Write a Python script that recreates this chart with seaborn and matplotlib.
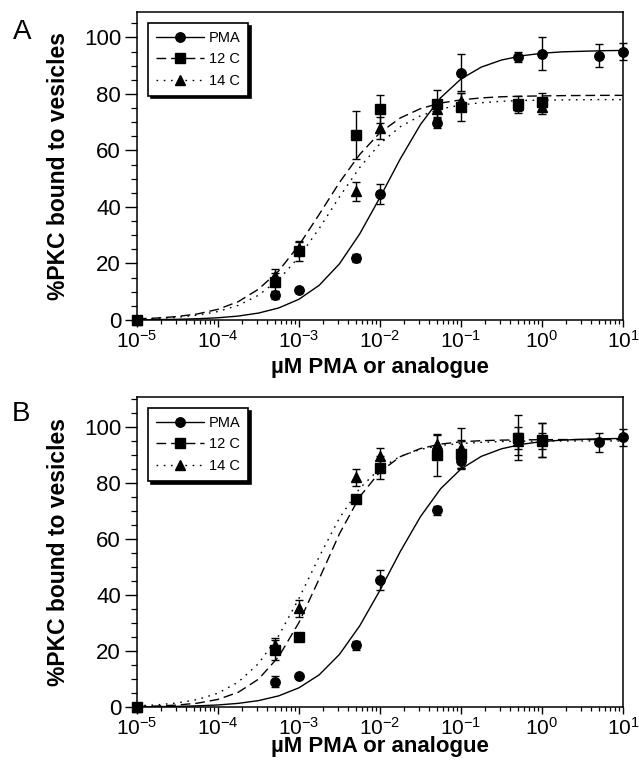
import numpy as np
import matplotlib
matplotlib.use('Agg')
import matplotlib.pyplot as plt
from matplotlib.lines import Line2D
from matplotlib.ticker import LogLocator, MultipleLocator, NullFormatter
import seaborn as sns

# Measured points (concentration in uM, % bound, error)
pma_x = [1e-5, 5e-4, 1e-3, 5e-3, 1e-2, 5e-2, 1e-1, 5e-1, 1, 5, 10]
ana_x = [1e-5, 5e-4, 1e-3, 5e-3, 1e-2, 5e-2, 1e-1, 5e-1, 1]

pma_a = [0, 8.8, 10.6, 22, 44.6, 69.6, 87.5, 93.2, 94.3, 93.5, 95.0]
pma_a_err = [0, 1.5, 0.8, 1.5, 3.5, 1.5, 6.5, 1.8, 5.8, 4.0, 3.0]
c12_a = [0, 13.6, 24.5, 65.5, 74.8, 76.5, 75.5, 76.3, 77.3]
c12_a_err = [0, 3.2, 3.5, 8.5, 5.0, 4.8, 5.0, 3.0, 3.0]
c14_a = [0, 15.5, 25.5, 45.5, 68, 74.5, 77.5, 76, 75.5]
c14_a_err = [0, 2.5, 2.0, 3.5, 4.0, 3.0, 3.0, 2.0, 2.5]

pma_b = [0, 9, 11, 22, 45.4, 70.2, 88, 95, 95.4, 94.5, 96.3]
pma_b_err = [0, 2.0, 0.8, 1.5, 3.5, 1.5, 3.0, 5.0, 6.0, 3.5, 3.0]
c12_b = [0, 20.4, 25, 74.3, 85.5, 90, 90.3, 96.2, 95.4]
c12_b_err = [0, 3.5, 1.5, 1.5, 4.0, 7.5, 5.0, 8.0, 6.0]
c14_b = [0, 22, 35.2, 82, 89.5, 94, 92.5, 95, 95]
c14_b_err = [0, 2.5, 3.0, 3.0, 3.0, 3.0, 7.0, 3.0, 3.0]

# Fitted curves, read at quarter-decade steps (log10 of uM)
curve_logx = [-5, -4.75, -4.5, -4.25, -4, -3.75, -3.5, -3.25, -3, -2.75, -2.5,
              -2.25, -2, -1.75, -1.5, -1.25, -1, -0.75, -0.5, -0.25, 0,
              0.25, 0.5, 0.75, 1]
fit_pma_a = [0.08, 0.14, 0.25, 0.45, 0.79, 1.39, 2.45, 4.27, 7.35, 12.3, 19.9,
             30.5, 43.4, 57.0, 69.2, 78.7, 85.3, 89.5, 92.0, 93.5, 94.4,
             94.9, 95.1, 95.3, 95.4]
fit_c12_a = [0.40, 0.70, 1.24, 2.17, 3.79, 6.49, 10.9, 17.4, 26.5, 37.4, 48.7,
             58.6, 66.3, 71.5, 74.8, 76.8, 77.9, 78.6, 79.0, 79.2, 79.3,
             79.4, 79.45, 79.5, 79.5]
fit_c14_a = [0.31, 0.55, 0.97, 1.72, 3.0, 5.18, 8.76, 14.3, 22.3, 32.4, 43.6,
             54.0, 62.4, 68.4, 72.3, 74.7, 76.1, 76.9, 77.4, 77.7, 77.8,
             77.9, 77.95, 78.0, 78.0]
fit_pma_b = [0.07, 0.13, 0.23, 0.41, 0.73, 1.30, 2.28, 3.98, 6.86, 11.5, 18.8,
             29.0, 41.7, 55.5, 68.0, 78.0, 85.0, 89.5, 92.2, 93.8, 94.8,
             95.3, 95.6, 95.8, 95.9]
fit_c12_b = [0.18, 0.35, 0.70, 1.38, 2.71, 5.25, 9.94, 18.0, 30.2, 45.8, 61.9,
             75.1, 84.0, 89.4, 92.3, 93.9, 94.7, 95.1, 95.3, 95.4, 95.45,
             95.5, 95.5, 95.5, 95.5]
fit_c14_b = [0.41, 0.77, 1.45, 2.69, 4.94, 8.90, 15.5, 25.5, 38.8, 53.7, 67.5,
             78.1, 85.2, 89.5, 92.0, 93.4, 94.1, 94.5, 94.8, 94.9, 94.95,
             95.0, 95.0, 95.0, 95.0]

labels = ['PMA', '12 C', '14 C']

sns.set_style('ticks')
plt.rcParams['font.family'] = ['Liberation Sans', 'DejaVu Sans']
plt.rcParams['mathtext.fontset'] = 'custom'
plt.rcParams['mathtext.rm'] = 'Liberation Sans'
plt.rcParams['mathtext.it'] = 'Liberation Sans:italic'
plt.rcParams['mathtext.bf'] = 'Liberation Sans:bold'
for key in ['text.color', 'axes.labelcolor', 'xtick.color', 'ytick.color', 'axes.edgecolor']:
    plt.rcParams[key] = 'black'

DASH = (0, (7, 3.5))
DOT = (0, (1.2, 4))
styles = {
    'PMA': dict(ls='-', marker='o'),
    '12 C': dict(ls=DASH, marker='s'),
    '14 C': dict(ls=DOT, marker='^'),
}


def draw_panel(ax, series, curves, ytop, xlabel_y):
    cx = 10 ** np.array(curve_logx, dtype=float)
    for name, fit in curves:
        sns.lineplot(x=cx, y=fit, ax=ax, color='k', lw=1.0,
                     linestyle=styles[name]['ls'], zorder=2)
    # draw order: PMA, 14 C, 12 C (squares end up on top)
    for name, x, y, err in series:
        cont = ax.errorbar(x, y, yerr=err, fmt=styles[name]['marker'], ms=6.8,
                           color='k', ecolor='k', elinewidth=1.0, capsize=3,
                           capthick=1.0, zorder=3)
        for art in [cont.lines[0], *cont.lines[1], *cont.lines[2]]:
            art.set_clip_on(False)

    ax.set_xscale('log')
    ax.set_xlim(1e-5, 10)
    ax.set_ylim(0, ytop)
    ax.xaxis.set_major_locator(LogLocator(base=10, numticks=10))
    ax.xaxis.set_minor_locator(LogLocator(base=10, subs=np.arange(2, 10), numticks=20))
    ax.xaxis.set_minor_formatter(NullFormatter())
    ax.yaxis.set_major_locator(MultipleLocator(20))
    ax.yaxis.set_minor_locator(MultipleLocator(5))
    ax.tick_params(axis='x', which='major', length=5, width=1, pad=2, labelsize=15)
    ax.tick_params(axis='x', which='minor', length=3, width=0.9)
    ax.tick_params(axis='y', which='major', length=8.5, width=1, pad=3, labelsize=16)
    ax.tick_params(axis='y', which='minor', length=4.5, width=0.9)
    for sp in ax.spines.values():
        sp.set_visible(True)
        sp.set_linewidth(1.1)
        sp.set_color('k')

    ax.set_ylabel('%PKC bound to vesicles', fontsize=16.5, fontweight='bold')
    ax.yaxis.set_label_coords(-0.138, 0.5)
    ax.set_xlabel('µM PMA or analogue', fontsize=16, fontweight='bold')
    ax.xaxis.set_label_coords(0.5, xlabel_y)

    handles = [Line2D([], [], color='k', lw=1.0, ls=styles[n]['ls'],
                      marker=styles[n]['marker'], ms=6.8) for n in labels]
    leg = ax.legend(handles, labels, loc='upper left', bbox_to_anchor=(0.023, 0.964),
                    borderaxespad=0, fancybox=False, edgecolor='k', framealpha=1,
                    shadow={'color': 'k', 'alpha': 1}, fontsize=10.5,
                    handlelength=3.3, handletextpad=0.3, labelspacing=0.5,
                    borderpad=0.55)
    leg.get_frame().set_linewidth(1.2)


fig = plt.figure(figsize=(6.39, 7.6), dpi=100)
ax_a = fig.add_axes([137 / 639, 440 / 760, 486 / 639, 308 / 760])
ax_b = fig.add_axes([137 / 639, 53 / 760, 486 / 639, 310 / 760])

draw_panel(ax_a,
           [('PMA', pma_x, pma_a, pma_a_err),
            ('14 C', ana_x, c14_a, c14_a_err),
            ('12 C', ana_x, c12_a, c12_a_err)],
           [('PMA', fit_pma_a), ('12 C', fit_c12_a), ('14 C', fit_c14_a)],
           109, -0.12)
draw_panel(ax_b,
           [('PMA', pma_x, pma_b, pma_b_err),
            ('14 C', ana_x, c14_b, c14_b_err),
            ('12 C', ana_x, c12_b, c12_b_err)],
           [('PMA', fit_pma_b), ('12 C', fit_c12_b), ('14 C', fit_c14_b)],
           110.7, -0.095)

fig.text(22 / 639, 1 - 32 / 760, 'A', fontsize=20, ha='center', va='center')
fig.text(21 / 639, 1 - 414 / 760, 'B', fontsize=20, ha='center', va='center')

fig.savefig('out.png', dpi=100)
